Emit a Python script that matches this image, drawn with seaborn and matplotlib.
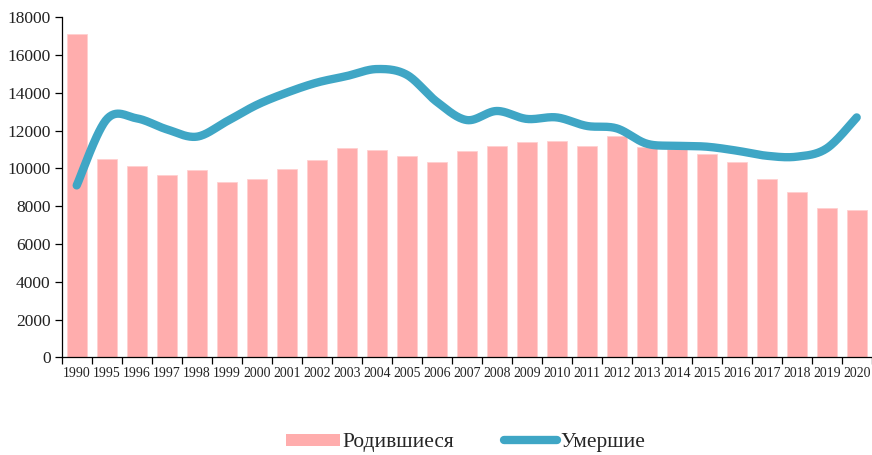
import numpy as np
import pandas as pd
import matplotlib
matplotlib.use("Agg")
import matplotlib.pyplot as plt
import seaborn as sns
from matplotlib.lines import Line2D
from matplotlib.patches import Patch

years = ["1990"] + [str(y) for y in range(1995, 2021)]
births = [17100, 10500, 10150, 9650, 9900, 9280, 9420, 9970, 10450, 11100,
          10990, 10650, 10340, 10940, 11200, 11380, 11450, 11200, 11730, 11150,
          11050, 10760, 10320, 9440, 8770, 7900, 7780]
deaths = [9100, 12600, 12650, 12070, 11680, 12490, 13360, 14010, 14540, 14890,
          15260, 14960, 13530, 12560, 13040, 12620, 12700, 12250, 12120, 11310,
          11200, 11150, 10940, 10670, 10620, 11060, 12700]
yticks = list(range(0, 18001, 2000))
label_births = "Родившиеся"
label_deaths = "Умершие"

bar_color = "#FFADAD"
line_color = "#3FA6C5"

sns.set_theme(style="white")
plt.rcParams["font.family"] = ["Liberation Serif", "DejaVu Serif"]

fig = plt.figure(figsize=(8.72, 4.55), dpi=100)
ax = fig.add_axes([61.7 / 872, 1 - 357.3 / 455, 810 / 872, 340 / 455])

df = pd.DataFrame({"year": years, "births": births})
sns.barplot(data=df, x="year", y="births", color=bar_color, saturation=1,
            width=0.667, edgecolor="#FFD0D0", linewidth=0.6, ax=ax, zorder=2)


def catmull_rom(xs, ys, n=30):
    xs = np.asarray(xs, float)
    ys = np.asarray(ys, float)
    px = np.concatenate([[xs[0]], xs, [xs[-1]]])
    py = np.concatenate([[ys[0]], ys, [ys[-1]]])
    outx, outy = [], []
    for i in range(1, len(px) - 2):
        p0 = np.array([px[i - 1], py[i - 1]])
        p1 = np.array([px[i], py[i]])
        p2 = np.array([px[i + 1], py[i + 1]])
        p3 = np.array([px[i + 2], py[i + 2]])
        c1 = p1 + (p2 - p0) / 6
        c2 = p2 - (p3 - p1) / 6
        t = np.linspace(0, 1, n, endpoint=(i == len(px) - 3))[:, None]
        pts = ((1 - t) ** 3) * p1 + 3 * ((1 - t) ** 2) * t * c1 + 3 * (1 - t) * t ** 2 * c2 + t ** 3 * p2
        outx.extend(pts[:, 0])
        outy.extend(pts[:, 1])
    return np.array(outx), np.array(outy)


sx, sy = catmull_rom(np.arange(len(deaths)), deaths)
ln = pd.DataFrame({"x": sx, "y": sy})
sns.lineplot(data=ln, x="x", y="y", sort=False, color=line_color, linewidth=6,
             ax=ax, zorder=3, estimator=None)
for l in ax.lines:
    l.set_solid_capstyle("round")

ax.set_xlim(-0.5, len(years) - 0.5)
ax.set_ylim(0, 18000)
ax.set_yticks(yticks)
ax.set_yticklabels([str(v) for v in yticks], fontsize=12.5)
ax.set_xticks(range(len(years)))
ax.set_xticklabels(years, fontsize=9.9)
ax.set_xticks(np.arange(-0.5, len(years), 1.0), minor=True)
ax.tick_params(axis="x", which="major", length=0, pad=7, colors="#222222")
ax.tick_params(axis="x", which="minor", length=5, width=0.9, direction="out", color="black", bottom=True)
ax.tick_params(axis="y", which="major", length=5, width=0.9, direction="out", left=True, pad=3, labelcolor="#222222", color="black")
ax.set_xlabel("")
ax.set_ylabel("")
for s in ["top", "right"]:
    ax.spines[s].set_visible(False)
for s in ["left", "bottom"]:
    ax.spines[s].set_color("black")
    ax.spines[s].set_linewidth(0.9)
ax.grid(False)

handles = [Patch(facecolor=bar_color, edgecolor="none"),
           Line2D([0], [0], color=line_color, linewidth=6, solid_capstyle="round")]
fig.legend(handles, [label_births, label_deaths], loc="center",
           bbox_to_anchor=(0.534, 0.027), ncol=2, frameon=False, fontsize=15.4,
           handlelength=2.5, handletextpad=0.15, columnspacing=2.3,
           handleheight=0.5)

fig.savefig("out.png", dpi=100)
